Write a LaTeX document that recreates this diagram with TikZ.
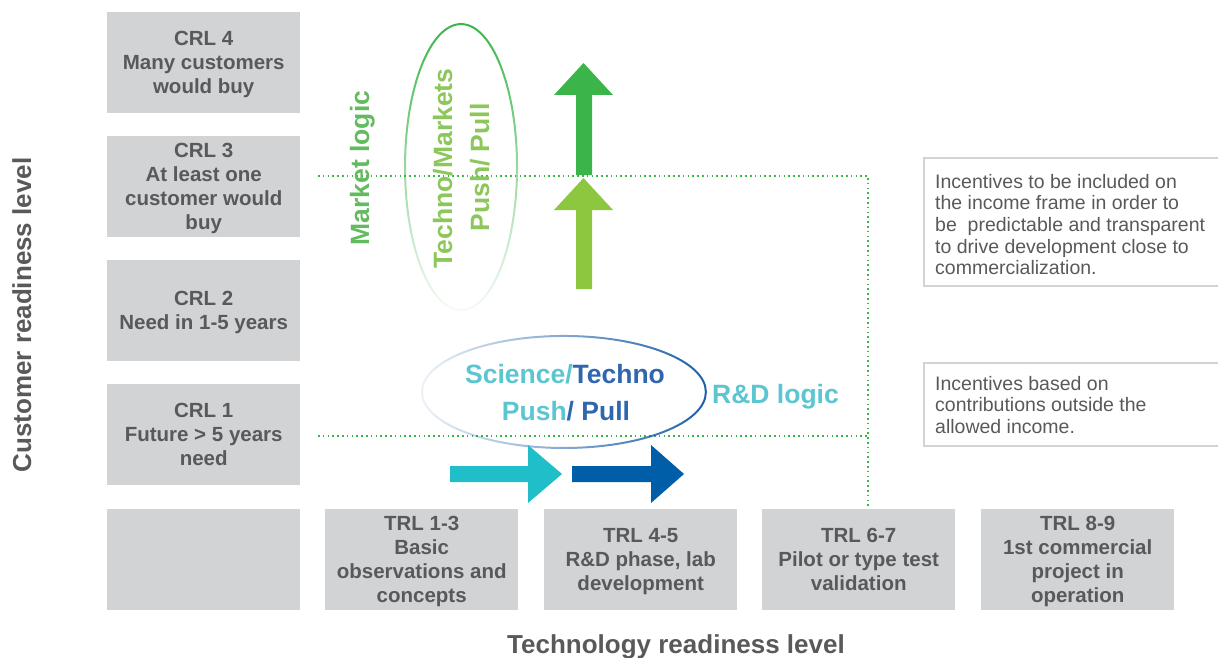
\documentclass[tikz,border=0pt]{standalone}
\usepackage{fontspec}
\setmainfont{Liberation Sans}
\usetikzlibrary{fadings}

\definecolor{boxgray}{HTML}{D1D3D4}
\definecolor{txtgray}{HTML}{58595B}
\definecolor{dotgreen}{HTML}{3BB44A}
\definecolor{upgreen}{HTML}{3BB44A}
\definecolor{uplight}{HTML}{8DC63F}
\definecolor{logicgreen}{HTML}{62BB5E}
\definecolor{tmgreen}{HTML}{8DC65A}
\definecolor{ellgreen}{HTML}{3BB44A}
\definecolor{ellblue}{HTML}{1B5EA8}
\definecolor{arcyan}{HTML}{1FBEC8}
\definecolor{arblue}{HTML}{005DA8}
\definecolor{scicyan}{HTML}{5BC5D0}
\definecolor{techblue}{HTML}{2F66AE}

\tikzfading[name=fadedown, top color=transparent!0, middle color=transparent!30, bottom color=transparent!95]
\tikzfading[name=fadeleft, left color=transparent!92, right color=transparent!0]

\tikzset{
  level/.style={fill=boxgray, text=txtgray, font=\bfseries\fontsize{20.5}{24}\selectfont,
    align=center, minimum width=193pt, minimum height=101pt, inner sep=0pt, anchor=north west,
    text depth=0pt},
  axislabel/.style={text=txtgray, font=\bfseries\fontsize{26}{30}\selectfont, inner sep=0pt, anchor=base},
  biglabel/.style={font=\bfseries\fontsize{26.5}{30}\selectfont, inner sep=0pt, anchor=base},
  notetext/.style={text=txtgray, font=\fontsize{19.5}{21.6}\selectfont, align=left, inner sep=0pt, anchor=north west},
  notebox/.style={draw=boxgray, line width=2pt},
  dotline/.style={draw=dotgreen, line width=1.6pt, dash pattern=on 1.6pt off 3.2pt},
}

\begin{document}
\begin{tikzpicture}[x=1pt,y=-1pt]
\useasboundingbox (0,0) rectangle (1218,658);

% customer readiness levels
\node[level] (crl4) at (107,12)  {CRL 4\\Many customers\\would buy};
\node[level] (crl3) at (107,136) {CRL 3\\At least one\\customer would\\buy};
\node[level] (crl2) at (107,260) {CRL 2\\Need in 1-5 years};
\node[level] (crl1) at (107,384) {CRL 1\\Future > 5 years\\need};
\node[level] (crl0) at (107,509) {};

% technology readiness levels
\node[level] (trl13) at (325,509) {TRL 1-3\\Basic\\observations and\\concepts};
\node[level] (trl45) at (544,509) {TRL 4-5\\R\&D phase, lab\\development};
\node[level] (trl67) at (762,509) {TRL 6-7\\Pilot or type test\\validation};
\node[level] (trl89) at (981,509) {TRL 8-9\\1st commercial\\project in\\operation};

% axis titles
\node[axislabel, rotate=90] (ylab) at (31,315) {Customer readiness level};
\node[axislabel] (xlab) at (676,653) {Technology readiness level};

% dotted thresholds
\coordinate (mkstart) at (318,176);
\coordinate (mkcorner) at (868,176);
\coordinate (rdstart) at (318,436);
\coordinate (rdend) at (868,436);
\draw[dotline] (mkstart) -- (mkcorner) -- (trl67.north -| mkcorner);
\draw[dotline] (rdstart) -- (rdend);

% market logic ellipse
\draw[ellgreen, line width=2pt, path fading=fadedown] (461,167) ellipse [x radius=56, y radius=143];
% R&D logic ellipse
\draw[ellblue, line width=2pt, path fading=fadeleft] (564,392) ellipse [x radius=142, y radius=56];

% upward arrows
\fill[upgreen] (576,175) -- (576,95) -- (554,95) -- (583.5,63) -- (613,95) -- (592,95) -- (592,175) -- cycle;
\fill[uplight] (576,289) -- (576,210) -- (554,210) -- (583.5,178) -- (613,210) -- (592,210) -- (592,289) -- cycle;

% rightward arrows
\fill[arcyan] (450,466) -- (528,466) -- (528,445) -- (562,474) -- (528,503) -- (528,482) -- (450,482) -- cycle;
\fill[arblue] (572,466) -- (651,466) -- (651,445) -- (684,474) -- (651,503) -- (651,482) -- (572,482) -- cycle;

% logic labels
\node[biglabel, rotate=90, text=logicgreen] (mklogic) at (369,168) {Market logic};
\node[biglabel, rotate=90, text=tmgreen] (tm1) at (452,168.5) {Techno/Markets};
\node[biglabel, rotate=90, text=tmgreen] (tm2) at (489,167.5) {Push/ Pull};
\node[biglabel] (st1) at (565,383.5) {\textcolor{scicyan}{Science/}\textcolor{techblue}{Techno}};
\node[biglabel] (st2) at (566,420) {\textcolor{scicyan}{Push}\textcolor{techblue}{/ Pull}};
\node[biglabel, text=scicyan] (rdlogic) at (775.5,403) {R\&D logic};

% incentive notes
\draw[notebox] (1222,158.5) -- (924,158.5) -- (924,286) -- (1222,286);
\node[notetext] (note1) at (935,174) {Incentives to be included on\\the income frame in order to\\be\ \ predictable and transparent\\to drive development close to\\commercialization.};
\draw[notebox] (1222,362.5) -- (924,362.5) -- (924,446) -- (1222,446);
\node[notetext] (note2) at (935,376) {Incentives based on\\contributions outside the\\allowed income.};

\end{tikzpicture}
\end{document}
